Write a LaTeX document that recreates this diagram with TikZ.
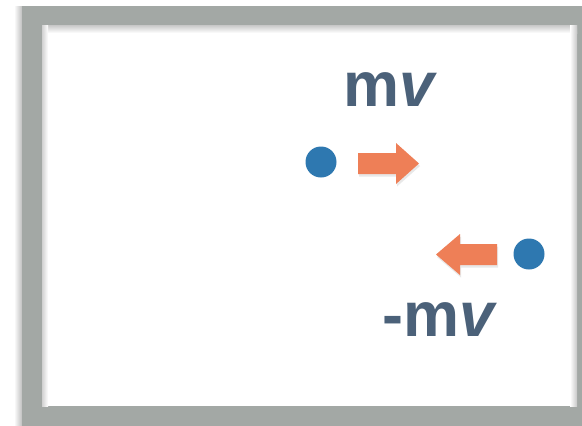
\documentclass[tikz,border=0pt]{standalone}
\usepackage{fontspec}
\setmainfont{Liberation Sans}
\usetikzlibrary{shadows}
\definecolor{framegray}{HTML}{A3A8A5}
\definecolor{ballblue}{HTML}{2E78B0}
\definecolor{arroworange}{HTML}{EE7F57}
\definecolor{labelslate}{HTML}{4B6179}
\tikzset{
  ball/.style={circle, fill=ballblue, minimum size=31pt, inner sep=0pt},
  momentum/.style={fill=arroworange, drop shadow={opacity=0.18, shadow xshift=1pt, shadow yshift=-2.5pt}},
  quantity/.style={text=labelslate, font=\fontsize{63}{63}\selectfont\bfseries, anchor=base, inner sep=0pt},
}
\begin{document}
\begin{tikzpicture}[x=1pt, y=-1pt]
  \useasboundingbox (0,0) rectangle (582,426);
  \fill[white] (0,0) rectangle (582,426);
  % soft shadow around the outer edge of the frame
  \shade[left color=white, right color=black!25] (14,6) rectangle (22,426);
  % frame
  \fill[framegray, even odd rule] (22,6) rectangle (597,426) (42,25) rectangle (577,406);
  % inner shadows below the top bar and beside the side bars
  \shade[top color=black!22, bottom color=white] (42,25) rectangle (577,33);
  \shade[left color=black!18, right color=white] (42,25) rectangle (48,406);
  \shade[left color=white, right color=black!22] (570,25) rectangle (577,406);
  % moving to the right
  \node[quantity] (p1) at (390,106) {m\textit{v}};
  \node[ball] (b1) at (321,162) {};
  \fill[momentum] (358,153) -- (396,153) -- (396,143) -- (419,163.5) -- (396,184) -- (396,174) -- (358,174) -- cycle;
  % moving to the left
  \node[ball] (b2) at (529,254) {};
  \fill[momentum] (497,244) -- (460,244) -- (460,234) -- (436,254.5) -- (460,275) -- (460,265) -- (497,265) -- cycle;
  \node[quantity] (p2) at (440,336) {-m\textit{v}};
\end{tikzpicture}
\end{document}
